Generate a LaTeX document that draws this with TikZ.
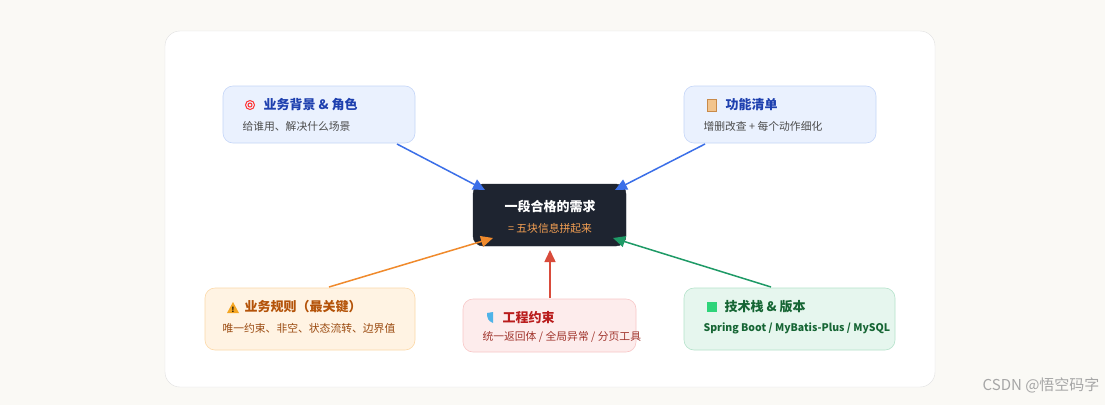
\documentclass[tikz,border=0pt]{standalone}
\usepackage{fontspec}
\setmainfont{Noto Sans CJK SC}
\usetikzlibrary{positioning,arrows.meta}
\definecolor{pagebg}{HTML}{FAF9F5}
\definecolor{darkbox}{HTML}{1E2430}
\definecolor{blueline}{HTML}{3B6FE8}
\definecolor{orangeline}{HTML}{F08A2C}
\definecolor{redline}{HTML}{D94B3B}
\definecolor{greenline}{HTML}{1E9A66}
\definecolor{bluefill}{HTML}{EAF1FE}
\definecolor{blueedge}{HTML}{C5D6F8}
\definecolor{bluetext}{HTML}{1E40AF}
\definecolor{orangefill}{HTML}{FFF3E3}
\definecolor{orangeedge}{HTML}{FCD9A8}
\definecolor{orangetext}{HTML}{B45309}
\definecolor{orangesub}{HTML}{9A4A10}
\definecolor{redfill}{HTML}{FDECEC}
\definecolor{rededge}{HTML}{F8C7C7}
\definecolor{redtext}{HTML}{B91C1C}
\definecolor{redsub}{HTML}{A0342C}
\definecolor{greenfill}{HTML}{E6F6EE}
\definecolor{greenedge}{HTML}{B5E3CB}
\definecolor{greentext}{HTML}{166534}
\definecolor{accent}{HTML}{F5A053}
\definecolor{clipfill}{HTML}{F2C48D}
\definecolor{clipedge}{HTML}{C88A4A}
\definecolor{warnfill}{HTML}{F5A623}
\definecolor{shieldfill}{HTML}{4FB3E8}
\definecolor{puzzlefill}{HTML}{2ED47A}
\tikzset{
  box/.style={draw, rounded corners=10pt, line width=0.6pt},
  title/.style={font=\bfseries\fontsize{13}{15}\selectfont, anchor=west},
  sub/.style={font=\fontsize{10.8}{12}\selectfont, anchor=west},
  link/.style={line width=1.5pt, -{Triangle[length=12pt,width=11pt]}},
}
\begin{document}
\begin{tikzpicture}[x=1pt,y=-1pt]
		\useasboundingbox[fill=pagebg] (0,0) rectangle (1105,405);
		\draw[fill=white, draw=black!12, rounded corners=15pt] (165,31) rectangle (935,387);
		% boxes
		\draw[box, fill=bluefill, draw=blueedge] (223,86) rectangle (415,143);
		\draw[box, fill=bluefill, draw=blueedge] (684,86) rectangle (876,143);
		\draw[box, fill=orangefill, draw=orangeedge] (205,288) rectangle (415,350);
		\draw[box, fill=redfill, draw=rededge] (463,299) rectangle (636,352);
		\draw[box, fill=greenfill, draw=greenedge] (684,288) rectangle (895,350);
		\draw[fill=darkbox, draw=darkbox, rounded corners=10pt] (473,184) rectangle (626,246);
		% icons
		\draw[red!80, line width=1pt] (250,105) circle (4.5pt) (250,105) circle (2pt);
		\draw[fill=clipfill, draw=clipedge] (707,99) rectangle (716,111);
		\fill[warnfill] (227,313) -- (233,302) -- (239,313) -- cycle;
		\node[font=\bfseries\fontsize{7}{7}\selectfont] at (233,309.5) {!};
		\fill[shieldfill] (487,313) -- (493,312) -- (493,323) .. controls (488,321) and (487,318) .. (487,313);
		\fill[puzzlefill] (707,302) rectangle (717,312);
		% texts
		\node[title, text=bluetext] (ta) at (260,105) {业务背景 \& 角色};
		\node[sub, text=black!70] (sa) at (239,126) {给谁用、解决什么场景};
		\node[title, text=bluetext] (tb) at (722,105) {功能清单};
		\node[sub, text=black!70] (sb) at (700,126) {增删改查 + 每个动作细化};
		\node[title, text=orangetext] (tc) at (241,307) {业务规则（最关键）};
		\node[sub, text=orangesub] (sc) at (219,328) {唯一约束、非空、状态流转、边界值};
		\node[title, text=redtext] (td) at (499,318) {工程约束};
		\node[sub, text=redsub] (sd) at (479,337) {统一返回体 / 全局异常 / 分页工具};
		\node[title, text=greentext] (te) at (721,307) {技术栈 \& 版本};
		\node[sub, font=\bfseries\fontsize{10.5}{12}\selectfont, text=greentext] (se) at (700,328) {Spring Boot / MyBatis-Plus / MySQL};
		\node[title, anchor=center, text=white] (tm) at (550,206) {一段合格的需求};
		\node[sub, anchor=center, text=accent] (sm) at (550,228) {= 五块信息拼起来};
		\node[anchor=east, font=\fontsize{15}{17}\selectfont, text=black!35] (mark) at (1103,385) {CSDN @悟空码字};
		% connectors
		\coordinate (pa) at (397,144); \coordinate (qa) at (485,190);
		\coordinate (pb) at (705,144); \coordinate (qb) at (615,190);
		\coordinate (pc) at (329,287); \coordinate (qc) at (493,238);
		\coordinate (pd) at (550,298); \coordinate (qd) at (550,250);
		\coordinate (pe) at (771,287); \coordinate (qe) at (613,238);
		\draw[link, blueline] (pa) -- (qa);
		\draw[link, blueline] (pb) -- (qb);
		\draw[link, orangeline] (pc) -- (qc);
		\draw[link, redline] (pd) -- (qd);
		\draw[link, greenline] (pe) -- (qe);
	\end{tikzpicture}
\end{document}
